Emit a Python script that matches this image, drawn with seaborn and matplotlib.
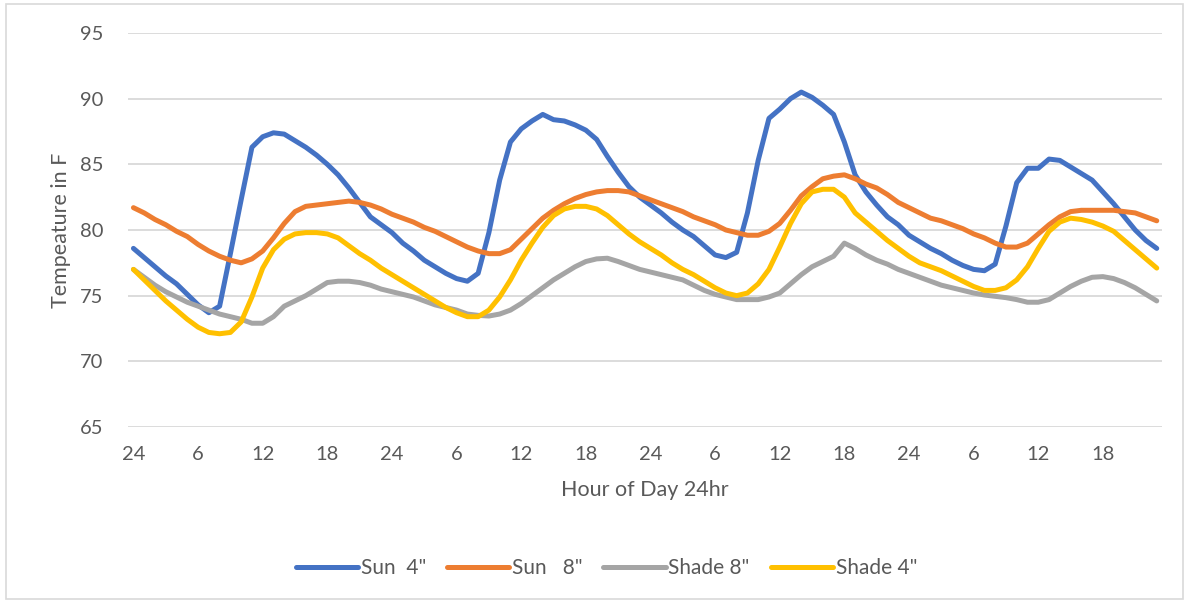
import matplotlib
matplotlib.use("Agg")
import matplotlib.pyplot as plt
import seaborn as sns
import pandas as pd
from matplotlib.patches import Rectangle

# hourly readings, 4 days, starting at hour 24
sun_4 = [78.6, 77.9, 77.2, 76.5, 75.9, 75.1, 74.3, 73.7, 74.2, 78.2, 82.3, 86.3,
         87.1, 87.4, 87.3, 86.8, 86.3, 85.7, 85.0, 84.2, 83.2, 82.1, 81.0, 80.4,
         79.8, 79.0, 78.4, 77.7, 77.2, 76.7, 76.3, 76.1, 76.7, 79.8, 83.8, 86.7,
         87.7, 88.3, 88.8, 88.4, 88.3, 88.0, 87.6, 86.9, 85.6, 84.4, 83.3, 82.5,
         81.9, 81.3, 80.6, 80.0, 79.5, 78.8, 78.1, 77.9, 78.3, 81.3, 85.3, 88.5,
         89.2, 90.0, 90.5, 90.1, 89.5, 88.8, 86.7, 84.2, 82.9, 81.9, 81.0, 80.4,
         79.6, 79.1, 78.6, 78.2, 77.7, 77.3, 77.0, 76.9, 77.4, 80.3, 83.6, 84.7,
         84.7, 85.4, 85.3, 84.8, 84.3, 83.8, 82.9, 82.0, 81.0, 80.0, 79.2, 78.6]
sun_8 = [81.7, 81.3, 80.8, 80.4, 79.9, 79.5, 78.9, 78.4, 78.0, 77.7, 77.5, 77.8,
         78.4, 79.4, 80.5, 81.4, 81.8, 81.9, 82.0, 82.1, 82.2, 82.1, 81.9, 81.6,
         81.2, 80.9, 80.6, 80.2, 79.9, 79.5, 79.1, 78.7, 78.4, 78.2, 78.2, 78.5,
         79.3, 80.1, 80.9, 81.5, 82.0, 82.4, 82.7, 82.9, 83.0, 83.0, 82.9, 82.6,
         82.3, 82.0, 81.7, 81.4, 81.0, 80.7, 80.4, 80.0, 79.8, 79.6, 79.6, 79.9,
         80.5, 81.5, 82.6, 83.3, 83.9, 84.1, 84.2, 83.9, 83.5, 83.2, 82.7, 82.1,
         81.7, 81.3, 80.9, 80.7, 80.4, 80.1, 79.7, 79.4, 79.0, 78.7, 78.7, 79.0,
         79.7, 80.4, 81.0, 81.4, 81.5, 81.5, 81.5, 81.5, 81.4, 81.3, 81.0, 80.7]
shade_8 = [77.0, 76.4, 75.8, 75.3, 74.9, 74.5, 74.2, 73.9, 73.6, 73.4, 73.2, 72.9,
           72.9, 73.4, 74.2, 74.6, 75.0, 75.5, 76.0, 76.1, 76.1, 76.0, 75.8, 75.5,
           75.3, 75.1, 74.9, 74.6, 74.3, 74.1, 73.9, 73.6, 73.5, 73.45, 73.6, 73.9,
           74.4, 75.0, 75.6, 76.2, 76.7, 77.2, 77.6, 77.8, 77.85, 77.6, 77.3, 77.0,
           76.8, 76.6, 76.4, 76.2, 75.8, 75.4, 75.1, 74.9, 74.7, 74.7, 74.7, 74.9,
           75.2, 75.9, 76.6, 77.2, 77.6, 78.0, 79.0, 78.6, 78.1, 77.7, 77.4, 77.0,
           76.7, 76.4, 76.1, 75.8, 75.6, 75.4, 75.2, 75.05, 74.95, 74.85, 74.7, 74.5,
           74.5, 74.7, 75.2, 75.7, 76.1, 76.4, 76.45, 76.3, 76.0, 75.6, 75.1, 74.6]
shade_4 = [77.0, 76.2, 75.4, 74.6, 73.9, 73.2, 72.6, 72.2, 72.1, 72.2, 73.0, 74.9,
           77.1, 78.5, 79.3, 79.7, 79.8, 79.8, 79.7, 79.4, 78.8, 78.2, 77.7, 77.1,
           76.6, 76.1, 75.6, 75.1, 74.6, 74.1, 73.7, 73.4, 73.4, 73.9, 74.9, 76.2,
           77.7, 79.0, 80.2, 81.1, 81.6, 81.8, 81.8, 81.6, 81.1, 80.4, 79.7, 79.1,
           78.6, 78.1, 77.5, 77.0, 76.6, 76.1, 75.6, 75.2, 75.0, 75.2, 75.9, 77.0,
           78.7, 80.5, 82.0, 82.9, 83.1, 83.1, 82.5, 81.3, 80.6, 79.9, 79.2, 78.6,
           78.0, 77.5, 77.2, 76.9, 76.5, 76.1, 75.7, 75.4, 75.4, 75.6, 76.2, 77.2,
           78.6, 79.9, 80.6, 80.9, 80.8, 80.6, 80.3, 79.9, 79.2, 78.5, 77.8, 77.1]

series_names = ['Sun  4"', 'Sun   8"', 'Shade 8"', 'Shade 4"']
series_colors = ["#4472C4", "#ED7D31", "#A5A5A5", "#FFC000"]
tick_labels = ["24", "6", "12", "18"] * 4

wide = pd.DataFrame({"hour": range(len(sun_4)),
                     series_names[0]: sun_4, series_names[1]: sun_8,
                     series_names[2]: shade_8, series_names[3]: shade_4})
data = wide.melt(id_vars="hour", var_name="series", value_name="temp")

sns.set_theme(style="white")
plt.rcParams["font.family"] = ["Lato", "DejaVu Sans"]
text_color = "#595959"

fig = plt.figure(figsize=(11.89, 6.02), dpi=100)
ax = fig.add_axes([0.1077, 0.2907, 0.8697, 0.6545])

sns.lineplot(data=data, x="hour", y="temp", hue="series", hue_order=series_names,
             palette=series_colors, linewidth=3.6, errorbar=None, legend=False, ax=ax)
for line in ax.lines:
    line.set_solid_capstyle("round")
    line.set_solid_joinstyle("round")

# axes look
ax.set_ylim(65, 95)
ax.set_yticks(range(65, 96, 5))
ax.set_xlim(-0.5, len(sun_4) - 0.5)
ax.set_xticks(range(0, len(sun_4), 6))
ax.set_xticklabels(tick_labels)
ax.yaxis.grid(True, color="#D9D9D9", linewidth=1.3)
ax.set_axisbelow(True)
for s in ax.spines.values():
    s.set_visible(False)
ax.tick_params(axis="both", length=0, labelsize=14.5, labelcolor=text_color)
ax.tick_params(axis="y", pad=18)
ax.tick_params(axis="x", pad=14)

ax.set_xlabel("Hour of Day 24hr", fontsize=15.5, color=text_color, labelpad=12)
ax.set_ylabel("Tempeature in F", fontsize=15.5, color=text_color, labelpad=6)

fig.legend(ax.lines[:4], series_names, loc="center", bbox_to_anchor=(0.51, 0.056),
           ncol=4, frameon=False, fontsize=15, handlelength=3.0, handletextpad=0.12,
           columnspacing=1.0, labelcolor=text_color)

# chart border
fig.patches.append(Rectangle((0.005, 0.005), 0.99, 0.988, transform=fig.transFigure,
                             fill=False, edgecolor="#D9D9D9", linewidth=1.2))

fig.savefig("out.png", dpi=100)
